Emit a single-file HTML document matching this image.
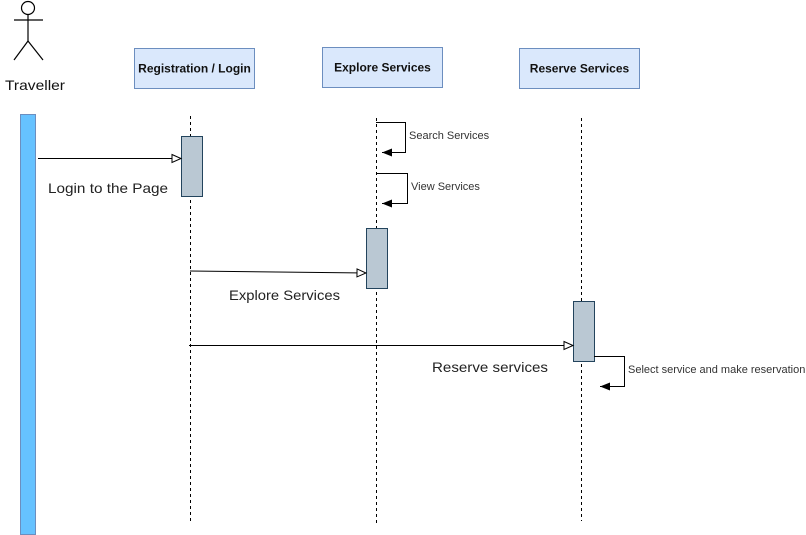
<!DOCTYPE html>
<html><head><meta charset="utf-8"><style>
html,body{margin:0;padding:0;background:#fff;width:806px;height:535px;overflow:hidden}
</style></head><body>
<svg width="806" height="535" xmlns="http://www.w3.org/2000/svg" font-family="Liberation Sans, sans-serif">
<defs>
<marker id="open" markerWidth="12" markerHeight="10" refX="10" refY="5" orient="auto" markerUnits="userSpaceOnUse">
<path d="M1,1 L10,5 L1,9 Z" fill="#fff" stroke="#000" stroke-width="1"/></marker>
<marker id="fill" markerWidth="12" markerHeight="10" refX="10" refY="5" orient="auto" markerUnits="userSpaceOnUse">
<path d="M0,1 L10,5 L0,9 Z" fill="#000"/></marker>
</defs>
<g stroke="#000" stroke-width="1.2" fill="none">
<circle cx="28" cy="8" r="6.5" fill="#fff"/>
<line x1="28" y1="14.5" x2="28" y2="41"/>
<line x1="14" y1="20" x2="43" y2="20"/>
<line x1="28" y1="41" x2="14" y2="60"/>
<line x1="28" y1="41" x2="43" y2="60"/>
</g>
<text x="5" y="90" font-size="14" textLength="60" lengthAdjust="spacingAndGlyphs" fill="#111">Traveller</text>
<rect x="20.5" y="114.5" width="15" height="420" fill="#66c2ff" stroke="#6c8ebf"/>
<g fill="#dae8fc" stroke="#6c8ebf">
<rect x="134.5" y="48.5" width="120" height="40"/>
<rect x="322.5" y="47.5" width="120" height="40"/>
<rect x="519.5" y="48.5" width="120" height="40"/>
</g>
<g font-size="12" font-weight="bold" text-anchor="middle" fill="#111">
<text x="194.5" y="72.5">Registration / Login</text>
<text x="382.5" y="71.5">Explore Services</text>
<text x="579.5" y="72.5">Reserve Services</text>
</g>
<g stroke="#000" stroke-dasharray="3,3" stroke-width="1">
<line x1="190.5" y1="116" x2="190.5" y2="523"/>
<line x1="376.5" y1="118" x2="376.5" y2="525"/>
<line x1="581.5" y1="118" x2="581.5" y2="521"/>
</g>
<g fill="#bac8d3" stroke="#23445d">
<rect x="181.5" y="136.5" width="21" height="60"/>
<rect x="366.5" y="228.5" width="21" height="60"/>
<rect x="573.5" y="301.5" width="21" height="60"/>
</g>
<g stroke="#000" stroke-width="1" fill="none">
<line x1="38" y1="158.5" x2="181" y2="158.5" marker-end="url(#open)"/>
<line x1="190" y1="271" x2="366" y2="273" marker-end="url(#open)"/>
<line x1="189" y1="345.5" x2="573" y2="345.5" marker-end="url(#open)"/>
<polyline points="376,122.5 405.5,122.5 405.5,152.5 382,152.5" marker-end="url(#fill)"/>
<polyline points="376,173.5 407.5,173.5 407.5,203.5 382,203.5" marker-end="url(#fill)"/>
<polyline points="594,356.5 624.5,356.5 624.5,386.5 600,386.5" marker-end="url(#fill)"/>
</g>
<g font-size="14" fill="#222" lengthAdjust="spacingAndGlyphs">
<text x="48" y="193" textLength="120" lengthAdjust="spacingAndGlyphs">Login to the Page</text>
<text x="229" y="300" textLength="111" lengthAdjust="spacingAndGlyphs">Explore Services</text>
<text x="432" y="372" textLength="116" lengthAdjust="spacingAndGlyphs">Reserve services</text>
</g>
<g font-size="11" fill="#333">
<text x="409" y="139">Search Services</text>
<text x="411" y="190">View Services</text>
<text x="628" y="373">Select service and make reservation</text>
</g>
</svg>
</body></html>
